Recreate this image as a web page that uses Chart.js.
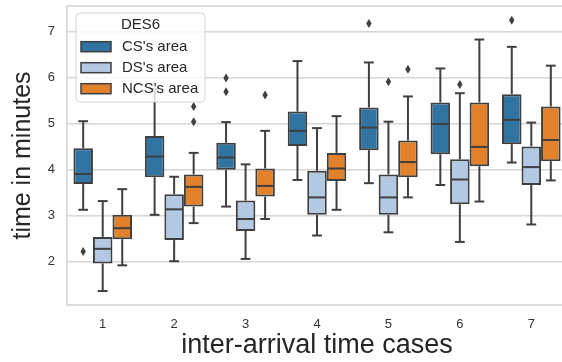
<!DOCTYPE html>
<html>
<head>
<meta charset="utf-8">
<script src="https://cdn.jsdelivr.net/npm/chart.js@4"></script>
<style>
  html, body { margin: 0; padding: 0; overflow: hidden; background: #fff; }
  #wrap { width: 572px; height: 362px; }
</style>
</head>
<body>
<div id="wrap"><canvas id="chart"></canvas></div>
<script>
const categories = ["1", "2", "3", "4", "5", "6", "7"];
const yTicks = [2, 3, 4, 5, 6, 7];
const legendTitle = "DES6";

// CS's area
const csLow = [3.12, 3.01, 3.19, 3.77, 3.70, 3.66, 4.15];
const csQ1 = [3.68, 3.83, 3.99, 4.51, 4.42, 4.33, 4.55];
const csMed = [3.90, 4.28, 4.26, 4.84, 4.91, 4.99, 5.08];
const csQ3 = [4.46, 4.73, 4.58, 5.26, 5.35, 5.46, 5.64];
const csHigh = [5.05, 5.75, 5.03, 6.36, 6.33, 6.20, 6.67];
const csOut = [[2.21], [], [5.99, 5.69], [], [7.18], [], [7.25]];

// DS's area
const dsLow = [1.35, 2.00, 2.05, 2.56, 2.63, 2.42, 2.80];
const dsQ1 = [1.95, 2.46, 2.66, 3.01, 3.01, 3.24, 3.66];
const dsMed = [2.27, 3.13, 2.92, 3.39, 3.39, 3.78, 4.05];
const dsQ3 = [2.53, 3.46, 3.32, 3.97, 3.89, 4.22, 4.50];
const dsHigh = [3.31, 3.84, 4.11, 4.90, 5.04, 5.66, 5.02];
const dsOut = [[], [], [], [], [5.91], [5.85], []];

// NCS's area
const ncsLow = [1.91, 2.83, 2.92, 3.12, 3.39, 3.30, 3.76];
const ncsQ1 = [2.48, 3.19, 3.41, 3.75, 3.83, 4.07, 4.18];
const ncsMed = [2.72, 3.62, 3.64, 4.02, 4.16, 4.49, 4.64];
const ncsQ3 = [3.01, 3.89, 4.02, 4.36, 4.63, 5.46, 5.37];
const ncsHigh = [3.57, 4.36, 4.84, 5.16, 5.59, 6.83, 6.26];
const ncsOut = [[], [5.37, 5.04], [5.62], [], [6.18], [], []];

const series = [
  { label: "CS's area", color: "#3274a1", low: csLow, q1: csQ1, med: csMed, q3: csQ3, high: csHigh, out: csOut },
  { label: "DS's area", color: "#b3c8e3", low: dsLow, q1: dsQ1, med: dsMed, q3: dsQ3, high: dsHigh, out: dsOut },
  { label: "NCS's area", color: "#e1812c", low: ncsLow, q1: ncsQ1, med: ncsMed, q3: ncsQ3, high: ncsHigh, out: ncsOut }
];

const edge = "#3f3f3f";
const font = '"Liberation Sans", Arial, sans-serif';

// frame round the plot area
const framePlugin = {
  id: "frame",
  beforeDatasetsDraw(chart) {
    const { ctx, chartArea: a } = chart;
    ctx.save();
    ctx.strokeStyle = "#cccccc";
    ctx.lineWidth = 1.3;
    ctx.strokeRect(a.left, a.top, a.right - a.left, a.bottom - a.top);
    ctx.restore();
  }
};

// whiskers, caps, medians and outliers on top of the bars
const boxPlugin = {
  id: "boxes",
  afterDatasetsDraw(chart) {
    const ctx = chart.ctx;
    const y = chart.scales.y;
    const line = (x1, y1, x2, y2) => {
      ctx.beginPath();
      ctx.moveTo(x1, y1);
      ctx.lineTo(x2, y2);
      ctx.stroke();
    };
    ctx.save();
    ctx.strokeStyle = edge;
    ctx.fillStyle = edge;
    ctx.lineWidth = 2;
    series.forEach((s, i) => {
      chart.getDatasetMeta(i).data.forEach((bar, j) => {
        const x = bar.x;
        const w = bar.width;
        const lo = y.getPixelForValue(s.low[j]);
        const hi = y.getPixelForValue(s.high[j]);
        const q1 = y.getPixelForValue(s.q1[j]);
        const q3 = y.getPixelForValue(s.q3[j]);
        const med = y.getPixelForValue(s.med[j]);
        line(x, q1, x, lo);
        line(x, q3, x, hi);
        line(x - w / 4, lo, x + w / 4, lo);
        line(x - w / 4, hi, x + w / 4, hi);
        line(x - w / 2 + 1, med, x + w / 2 - 1, med);
        s.out[j].forEach(v => {
          const py = y.getPixelForValue(v);
          ctx.beginPath();
          ctx.moveTo(x, py - 4.5);
          ctx.lineTo(x + 2.7, py);
          ctx.lineTo(x, py + 4.5);
          ctx.lineTo(x - 2.7, py);
          ctx.closePath();
          ctx.fill();
        });
      });
    });
    ctx.restore();
  }
};

const legendPlugin = {
  id: "boxLegend",
  afterDraw(chart) {
    const { ctx, chartArea } = chart;
    const x0 = chartArea.left + 9;
    const y0 = chartArea.top + 7;
    const w = 129, h = 89;
    ctx.save();
    ctx.beginPath();
    ctx.roundRect(x0, y0, w, h, 4);
    ctx.fillStyle = "rgba(255,255,255,0.8)";
    ctx.fill();
    ctx.strokeStyle = "#d4d4d4";
    ctx.lineWidth = 1;
    ctx.stroke();
    ctx.font = "15px " + font;
    ctx.fillStyle = "#262626";
    ctx.textAlign = "center";
    ctx.textBaseline = "middle";
    ctx.fillText(legendTitle, x0 + w / 2, y0 + 12);
    series.forEach((s, i) => {
      const cy = y0 + 33.7 + i * 21;
      ctx.fillStyle = s.color;
      ctx.fillRect(x0 + 5, cy - 5, 30, 10);
      ctx.strokeStyle = edge;
      ctx.lineWidth = 1.5;
      ctx.strokeRect(x0 + 5, cy - 5, 30, 10);
      ctx.fillStyle = "#262626";
      ctx.textAlign = "left";
      ctx.fillText(s.label, x0 + 46, cy);
    });
    ctx.restore();
  }
};

new Chart(document.getElementById("chart"), {
  type: "bar",
  data: {
    labels: categories,
    datasets: series.map(s => ({
      label: s.label,
      data: s.q1.map((v, j) => [v, s.q3[j]]),
      backgroundColor: s.color,
      borderColor: edge,
      borderWidth: 2,
      borderSkipped: false,
      categoryPercentage: 0.82,
      barPercentage: 1
    }))
  },
  options: {
    responsive: true,
    maintainAspectRatio: false,
    animation: false,
    layout: { padding: { left: 0, top: 6, right: 5, bottom: 0 } },
    plugins: {
      legend: { display: false },
      tooltip: { enabled: false }
    },
    scales: {
      x: {
        grid: { display: false, drawTicks: false },
        border: { display: false },
        ticks: { color: "#333", padding: 12, font: { family: font, size: 13 } },
        title: {
          display: true,
          text: "inter-arrival time cases",
          color: "#262626",
          font: { family: font, size: 27 },
          padding: { top: 0, bottom: 0 }
        },
        afterFit(scale) {
          scale.height = 57;
          scale.paddingLeft = 0;
          scale.paddingRight = 0;
        }
      },
      y: {
        min: 1.046,
        max: 7.56,
        grid: { color: "#d6d6d6", lineWidth: 1.4, drawTicks: false },
        border: { display: false },
        ticks: { color: "#333", padding: 12, font: { family: font, size: 13 } },
        afterBuildTicks(scale) { scale.ticks = yTicks.map(v => ({ value: v })); },
        title: {
          display: true,
          text: "time in minutes",
          color: "#262626",
          font: { family: font, size: 25 },
          padding: { top: 8, bottom: 0 }
        },
        afterFit(scale) {
          scale.width = 67;
          scale.paddingTop = 0;
          scale.paddingBottom = 0;
        }
      }
    }
  },
  plugins: [framePlugin, boxPlugin, legendPlugin]
});
</script>
</body>
</html>
